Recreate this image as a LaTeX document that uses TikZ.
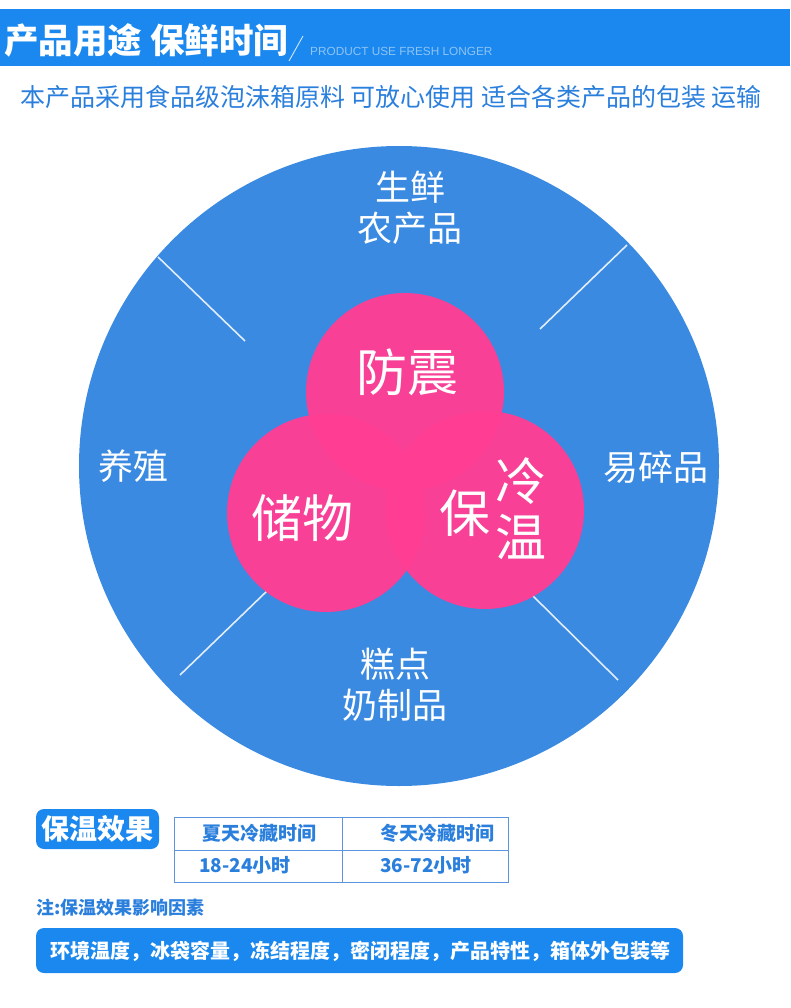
\documentclass[tikz,border=0pt]{standalone}
\usepackage{fontspec}
\setmainfont{Noto Sans CJK SC}
\newfontfamily\latinfont{Liberation Sans}
\definecolor{barblue}{HTML}{1A88EE}
\definecolor{discblue}{HTML}{3A8AE2}
\definecolor{textblue}{HTML}{2A7FDD}
\definecolor{gridblue}{HTML}{5B95E0}
\definecolor{rose}{HTML}{FF3D93}
\definecolor{faint}{HTML}{8FC4F6}

\begin{document}
\begin{tikzpicture}[x=1pt,y=-1pt,
	every node/.style={inner sep=0pt},
	outer/.style={text=white,align=center,font=\fontsize{35}{41}\selectfont},
	petal/.style={circle,fill=rose,fill opacity=0.96,minimum size=198pt},
	inner/.style={text=white,font=\fontsize{51}{56}\selectfont},
	spoke/.style={white!85!discblue,line width=1.6pt},
	cell/.style={text=textblue,font=\bfseries\fontsize{19}{22}\selectfont},
	tag/.style={fill=barblue,rounded corners=8pt}]
	\useasboundingbox (0,0) rectangle (790,1008);

	% header
	\fill[barblue] (0,9) rectangle (790,66);
	\node[anchor=west,text=white,font=\bfseries\fontsize{34.5}{38}\selectfont] (title) at (4,40) {产品用途 保鲜时间};
	\coordinate (s1) at (289,61);
	\coordinate (s2) at (303,36);
	\draw[white!80!barblue,line width=0.9pt] (s1) -- (s2);
	\node[anchor=west,text=faint,font=\latinfont\fontsize{11.8}{13}\selectfont] (eng) at (310,51) {PRODUCT USE FRESH LONGER};
	\node[text=textblue,font=\fontsize{25}{28}\selectfont] (sub) at (391,97) {本产品采用食品级泡沫箱原料 可放心使用 适合各类产品的包装 运输};

	% disc
	\node[circle,fill=discblue,minimum size=640pt] (disc) at (399,466) {};
	\coordinate (a1) at (158,257); \coordinate (a2) at (245,341);
	\coordinate (b1) at (540,329); \coordinate (b2) at (627,245);
	\coordinate (c1) at (180,675); \coordinate (c2) at (268,590);
	\coordinate (d1) at (532,595); \coordinate (d2) at (618,680);
	\draw[spoke] (a1) -- (a2);
	\draw[spoke] (b1) -- (b2);
	\draw[spoke] (c1) -- (c2);
	\draw[spoke] (d1) -- (d2);

	\node[outer] (fresh) at (410,208) {生鲜\\农产品};
	\node[outer] (breed) at (133,466) {养殖};
	\node[outer] (fragile) at (656,467) {易碎品};
	\node[outer] (cake) at (395,685) {糕点\\奶制品};

	\node[petal] (p1) at (405,392) {};
	\node[petal] (p2) at (326,513) {};
	\node[petal] (p3) at (485,510) {};
	\node[inner] (shock) at (407,372) {防震};
	\node[inner] (store) at (302,518) {储物};
	\node[inner] (bao) at (465,513) {保};
	\node[inner] (leng) at (521,481) {冷};
	\node[inner] (wen) at (521,537) {温};

	% effect table
	\fill[tag] (36,809) rectangle (159,849);
	\node[text=white,font=\bfseries\fontsize{28}{30}\selectfont] (effect) at (97.5,829) {保温效果};
	\draw[gridblue,line width=1pt] (174,817) rectangle (508,882);
	\draw[gridblue,line width=1pt] (342,817) -- (342,882);
	\draw[gridblue,line width=1pt] (174,850) -- (508,850);
	\node[cell] (h1) at (259,833) {夏天冷藏时间};
	\node[cell] (h2) at (437,833) {冬天冷藏时间};
	\node[cell,anchor=west] (v1) at (199,865) {18-24小时};
	\node[cell,anchor=west] (v2) at (380,865) {36-72小时};

	\node[anchor=west,text=textblue,font=\bfseries\fontsize{18}{20}\selectfont] (note) at (36,908) {注:保温效果影响因素};
	\fill[tag] (36,928) rectangle (683,973);
	\node[anchor=west,text=white,font=\bfseries\fontsize{20}{22}\selectfont] (factors) at (50,951) {环境温度，冰袋容量，冻结程度，密闭程度，产品特性，箱体外包装等};
\end{tikzpicture}
\end{document}
